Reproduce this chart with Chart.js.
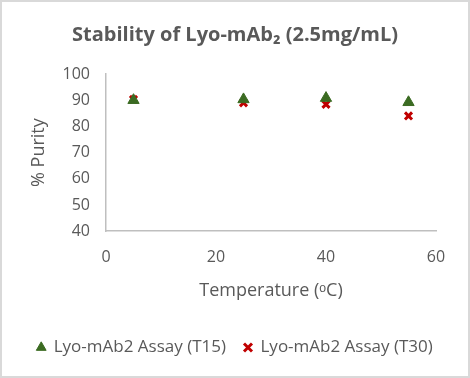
<!DOCTYPE html>
<html>
<head>
<meta charset="utf-8">
<script src="https://cdn.jsdelivr.net/npm/chart.js@4"></script>
<style>
  html, body { margin: 0; padding: 0; background: #fff; }
  #wrap { width: 470px; height: 378px; box-sizing: border-box; border: 2px solid #d9d9d9; }
</style>
</head>
<body>
<div id="wrap"><canvas id="grafico" width="466" height="374"></canvas></div>
<script>
const temperaturas = [5, 25, 40, 55]
const purezaT15 = [90.0, 90.3, 90.8, 89.2]
const purezaT30 = [90.3, 89.0, 88.4, 84.0]
const ticksY = [40, 50, 60, 70, 80, 90, 100]
const ticksX = [0, 20, 40, 60]

const corTexto = '#595959'
const fonte = "'Open Sans', sans-serif"

function pontos(xs, ys){
    return xs.map((x, i) => ({ x: x, y: ys[i] }))
}

const ctx = document.getElementById("grafico")

new Chart(ctx, {
    type: 'scatter',
    data: {
        datasets: [
            {
                label: "Lyo-mAb2 Assay (T15)",
                data: pontos(temperaturas, purezaT15),
                pointStyle: 'triangle',
                pointRadius: 6.5,
                backgroundColor: '#3b6b22',
                borderColor: '#3b6b22',
                borderWidth: 1
            },
            {
                label: "Lyo-mAb2 Assay (T30)",
                data: pontos(temperaturas, purezaT30),
                pointStyle: 'crossRot',
                pointRadius: 5,
                backgroundColor: '#c00000',
                borderColor: '#c00000',
                borderWidth: 3
            }
        ]
    },
    options: {
        responsive: false,
        animation: false,
        layout: {
            padding: { left: 0, right: 0, top: 0, bottom: 10 }
        },
        plugins: {
            title: {
                display: true,
                text: "Stability of Lyo-mAb₂ (2.5mg/mL)",
                color: corTexto,
                font: { family: fonte, size: 20, weight: 'bold' },
                padding: { top: 21, bottom: 27 }
            },
            legend: {
                position: 'bottom',
                labels: {
                    color: corTexto,
                    usePointStyle: true,
                    boxWidth: 8,
                    boxHeight: 8,
                    padding: 18,
                    font: { family: fonte, size: 17 }
                }
            },
            tooltip: { enabled: false }
        },
        scales: {
            x: {
                type: 'linear',
                min: 0,
                max: 60,
                afterBuildTicks: (axis) => { axis.ticks = ticksX.map(v => ({ value: v })) },
                grid: { display: false, drawTicks: false },
                border: { display: true, color: '#bfbfbf', width: 1.5 },
                ticks: { color: corTexto, padding: 17, font: { family: fonte, size: 16 } },
                title: {
                    display: true,
                    text: "Temperature (ᵒC)",
                    color: corTexto,
                    font: { family: fonte, size: 18 },
                    padding: { top: -4, bottom: 19 }
                }
            },
            y: {
                min: 40,
                max: 100,
                afterBuildTicks: (axis) => { axis.ticks = ticksY.map(v => ({ value: v })) },
                afterFit: (axis) => { axis.width = 104 },
                grid: { display: false, drawTicks: false },
                border: { display: true, color: '#bfbfbf', width: 1.5 },
                ticks: { color: corTexto, padding: 16, font: { family: fonte, size: 16 } },
                title: {
                    display: true,
                    text: "% Purity",
                    color: corTexto,
                    font: { family: fonte, size: 18 },
                    padding: { top: 26, bottom: 0 }
                }
            },
            margemDireita: {
                type: 'linear',
                position: 'right',
                afterFit: (axis) => { axis.width = 32 },
                grid: { display: false, drawTicks: false },
                border: { display: false },
                ticks: { display: false }
            }
        }
    }
});
</script>
</body>
</html>
